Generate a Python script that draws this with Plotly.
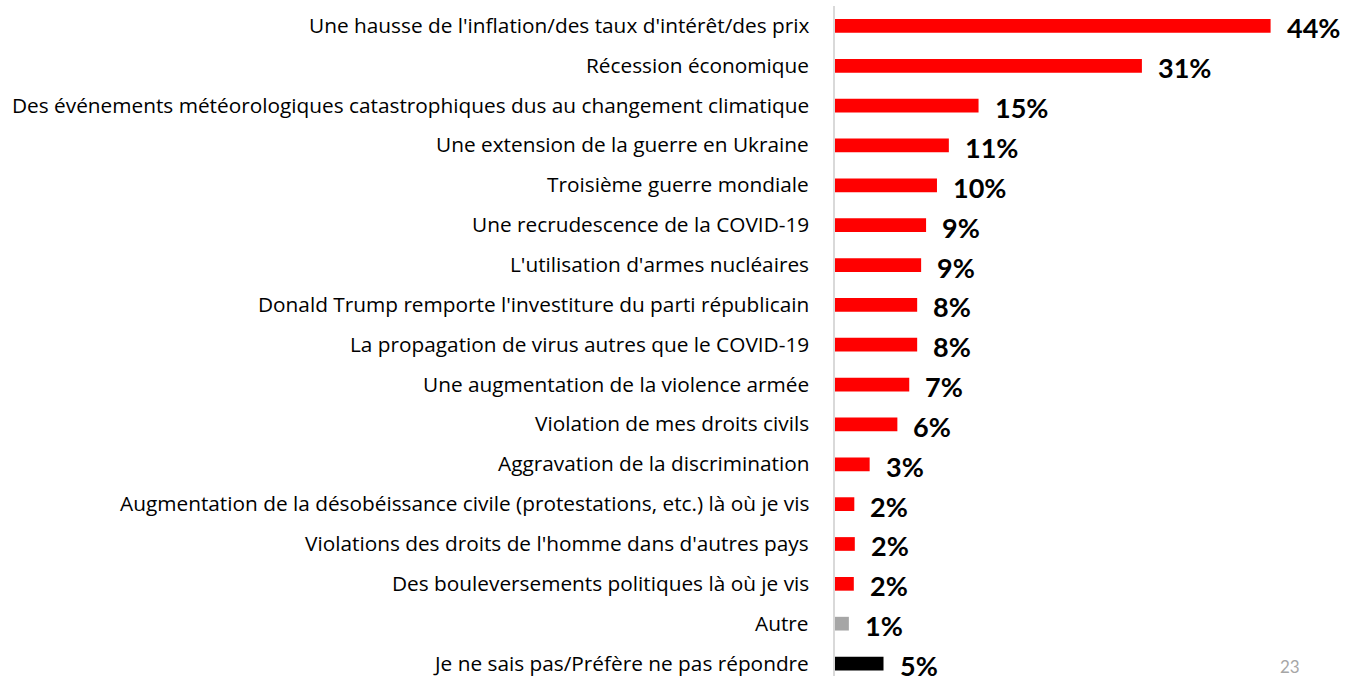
import plotly.graph_objects as go

categories = [
    "Une hausse de l'inflation/des taux d'intérêt/des prix",
    "Récession économique",
    "Des événements météorologiques catastrophiques dus au changement climatique",
    "Une extension de la guerre en Ukraine",
    "Troisième guerre mondiale",
    "Une recrudescence de la COVID-19",
    "L'utilisation d'armes nucléaires",
    "Donald Trump remporte l'investiture du parti républicain",
    "La propagation de virus autres que le COVID-19",
    "Une augmentation de la violence armée",
    "Violation de mes droits civils",
    "Aggravation de la discrimination",
    "Augmentation de la désobéissance civile (protestations, etc.) là où je vis",
    "Violations des droits de l'homme dans d'autres pays",
    "Des bouleversements politiques là où je vis",
    "Autre",
    "Je ne sais pas/Préfère ne pas répondre",
]
values = [44.0, 31.0, 14.5, 11.5, 10.3, 9.2, 8.7, 8.3, 8.3, 7.5, 6.3, 3.5, 1.95, 2.0, 1.9, 1.4, 4.9]
value_labels = ["44%", "31%", "15%", "11%", "10%", "9%", "9%", "8%", "8%", "7%", "6%", "3%", "2%", "2%", "2%", "1%", "5%"]
bar_colors = ["#FF0000"] * 15 + ["#A6A6A6", "#000000"]
page_number = "23"

W, H = 1346, 676
L, R, T, B = 835, 16, 6, 0
fig = go.Figure()
fig.add_trace(go.Bar(
    x=values, y=list(range(len(categories))), orientation="h",
    marker=dict(color=bar_colors, line=dict(width=0)),
    width=0.344, hoverinfo="skip",
))

annotations = []
for i, (cat, v, lab) in enumerate(zip(categories, values, value_labels)):
    annotations.append(dict(
        x=0, y=i, xref="x", yref="y", text=cat, showarrow=False,
        xanchor="right", yanchor="middle", xshift=-24, yshift=1,
        font=dict(family="Open Sans", size=20.8, color="#000000"),
    ))
    annotations.append(dict(
        x=v, y=i, xref="x", yref="y", text="<b>" + lab + "</b>", showarrow=False,
        xanchor="left", yanchor="middle", xshift=14, yshift=-2,
        font=dict(family="Lato", size=27, color="#000000"),
    ))
annotations.append(dict(
    x=(1290 - L) / (W - L - R), y=(H - 666) / (H - T - B), xref="paper", yref="paper",
    text=page_number, showarrow=False, xanchor="center", yanchor="middle",
    font=dict(family="Lato", size=17, color="#A6A6A6"),
))

fig.update_layout(
    width=W, height=H,
    margin=dict(l=L, r=R, t=T, b=B),
    paper_bgcolor="white", plot_bgcolor="white",
    showlegend=False,
    xaxis=dict(range=[0, 50], visible=False, fixedrange=True),
    yaxis=dict(range=[16.313, -0.5], showticklabels=False, showgrid=False, zeroline=False,
               showline=True, linecolor="#D9D9D9", linewidth=2, ticks="", fixedrange=True),
    annotations=annotations,
)
fig.write_html("out.html", config={"displayModeBar": False, "staticPlot": True},
               post_script="document.body.style.margin='0';document.body.style.overflow='hidden';")
